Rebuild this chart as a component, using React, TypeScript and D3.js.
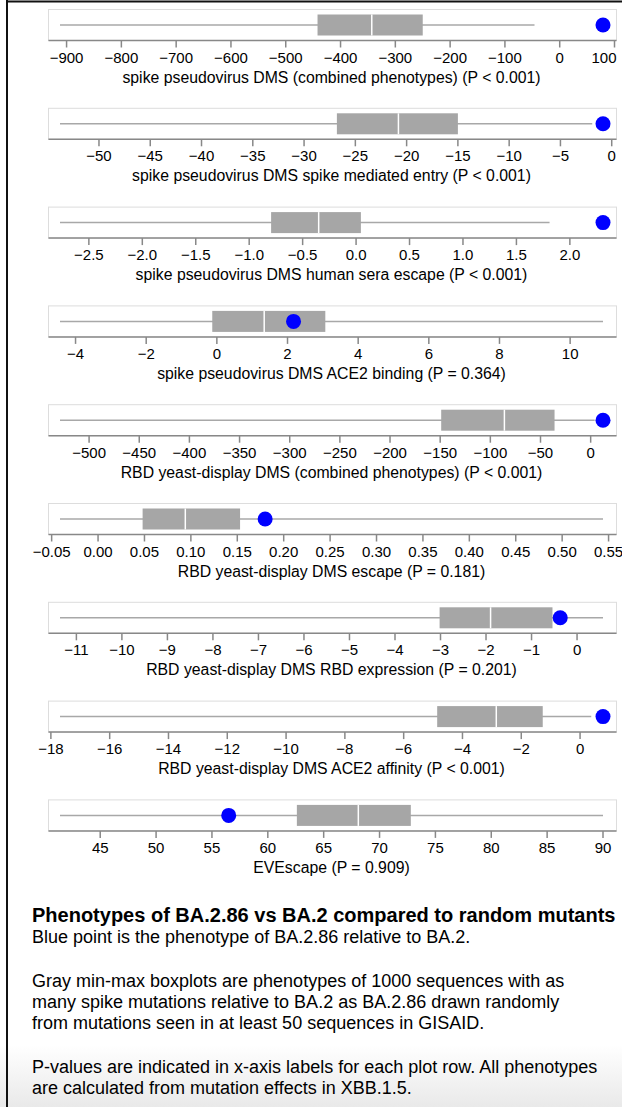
import * as d3 from 'd3';
import React, {useEffect, useRef} from 'react';

// phenotype rows, top to bottom
const labels = [
  'spike pseudovirus DMS (combined phenotypes) (P < 0.001)',
  'spike pseudovirus DMS spike mediated entry (P < 0.001)',
  'spike pseudovirus DMS human sera escape (P < 0.001)',
  'spike pseudovirus DMS ACE2 binding (P = 0.364)',
  'RBD yeast-display DMS (combined phenotypes) (P < 0.001)',
  'RBD yeast-display DMS escape (P = 0.181)',
  'RBD yeast-display DMS RBD expression (P = 0.201)',
  'RBD yeast-display DMS ACE2 affinity (P < 0.001)',
  'EVEscape (P = 0.909)'
];
const mins = [-912, -53.8, -2.77, -4.44, -529, -0.041, -11.36, -17.69, 41.4];
const q1s = [-442, -26.8, -0.795, -0.13, -149, 0.048, -3.02, -4.86, 62.6];
const medians = [-343, -20.8, -0.35, 1.34, -86, 0.094, -1.9, -2.85, 68.1];
const q3s = [-250, -15.0, 0.045, 3.07, -36, 0.153, -0.54, -1.27, 72.8];
const maxs = [-46, -1.9, 1.81, 10.93, 4, 0.544, 0.57, 0.38, 90.0];
const points = [79, -0.85, 2.31, 2.17, 12.3, 0.18, -0.37, 0.78, 56.5];

const notes = [
  {text: 'Phenotypes of BA.2.86 vs BA.2 compared to random mutants', bold: true, y: 922},
  {text: 'Blue point is the phenotype of BA.2.86 relative to BA.2.', bold: false, y: 943},
  {text: 'Gray min-max boxplots are phenotypes of 1000 sequences with as', bold: false, y: 987},
  {text: 'many spike mutations relative to BA.2 as BA.2.86 drawn randomly', bold: false, y: 1008},
  {text: 'from mutations seen in at least 50 sequences in GISAID.', bold: false, y: 1029},
  {text: 'P-values are indicated in x-axis labels for each plot row. All phenotypes', bold: false, y: 1073},
  {text: 'are calculated from mutation effects in XBB.1.5.', bold: false, y: 1094}
];

const W = 622;
const H = 1107;
const font = '"Liberation Sans", Arial, Helvetica, sans-serif';

export default function App() {
  const ref = useRef(null);

  useEffect(() => {
    const svg = d3.select(ref.current);
    svg.selectAll('*').remove();

    const defs = svg.append('defs');
    const grad = defs.append('linearGradient').attr('id', 'fade')
        .attr('x1', 0).attr('y1', 0).attr('x2', 0).attr('y2', 1);
    grad.append('stop').attr('offset', '0%').attr('stop-color', '#ffffff');
    grad.append('stop').attr('offset', '100%').attr('stop-color', '#e9e9e9');

    svg.append('rect').attr('width', W).attr('height', H).attr('fill', '#fff');
    svg.append('rect').attr('x', 0).attr('y', 1045).attr('width', W)
        .attr('height', H - 1045).attr('fill', 'url(#fade)');

    const frameL = 48.5;
    const frameR = 616.5;
    const frameH = 31;
    const pitch = 98.8;

    labels.forEach((label, i) => {
      const top = 9.5 + i * pitch;
      const lo = Math.min(mins[i], points[i]);
      const hi = Math.max(maxs[i], points[i]);
      const x = d3.scaleLinear().domain([lo, hi]).range([60, 603]);
      const xt = x.copy().domain([x.invert(frameL), x.invert(frameR)]).range([frameL, frameR]);
      const g = svg.append('g');

      g.append('rect').attr('x', frameL).attr('y', top)
          .attr('width', frameR - frameL).attr('height', frameH)
          .attr('fill', '#fff').attr('stroke', '#ddd');

      const cy = top + 15.5;
      g.append('line').attr('x1', x(mins[i])).attr('x2', x(maxs[i]))
          .attr('y1', cy).attr('y2', cy)
          .attr('stroke', '#a8a8a8').attr('stroke-width', 1.5);
      g.append('rect').attr('x', x(q1s[i])).attr('y', top + 5)
          .attr('width', x(q3s[i]) - x(q1s[i])).attr('height', 21)
          .attr('fill', '#a6a6a6');
      g.append('line').attr('x1', x(medians[i])).attr('x2', x(medians[i]))
          .attr('y1', top + 5).attr('y2', top + 26)
          .attr('stroke', '#fff').attr('stroke-width', 1.5);
      g.append('circle').attr('cx', x(points[i])).attr('cy', cy)
          .attr('r', 7.5).attr('fill', '#0000ff');

      // axis
      const base = top + frameH;
      g.append('line').attr('x1', frameL).attr('x2', frameR)
          .attr('y1', base).attr('y2', base)
          .attr('stroke', '#888').attr('stroke-width', 1.5);
      const ticks = xt.ticks(10);
      const fmt = xt.tickFormat(10);
      ticks.forEach(t => {
        const tx = xt(t);
        // last label flush with the right end when it sits on it
        const flush = tx > frameR - 3;
        g.append('line').attr('x1', tx).attr('x2', tx)
            .attr('y1', base).attr('y2', base + 7)
            .attr('stroke', '#888').attr('stroke-width', 1.5);
        g.append('text').attr('x', flush ? frameR : tx).attr('y', top + 53)
            .attr('text-anchor', flush ? 'end' : 'middle').attr('font-family', font)
            .attr('font-size', 15).attr('fill', '#000').text(fmt(t));
      });
      g.append('text').attr('x', (frameL + frameR) / 2 - 1).attr('y', top + 73)
          .attr('text-anchor', 'middle').attr('font-family', font)
          .attr('font-size', 15.8).attr('fill', '#000').text(label);
    });

    notes.forEach(n => {
      svg.append('text').attr('x', 32).attr('y', n.y)
          .attr('font-family', font)
          .attr('font-size', n.bold ? 20 : 18)
          .attr('font-weight', n.bold ? 'bold' : 'normal')
          .attr('fill', '#000').text(n.text);
    });

    // dark frame of the screenshot
    svg.append('rect').attr('x', 6).attr('y', 0).attr('width', 2).attr('height', H).attr('fill', '#111');
    svg.append('rect').attr('x', 6).attr('y', 0.5).attr('width', W - 6).attr('height', 2).attr('fill', '#111');
  }, []);

  return (
    <svg ref={ref} width={W} height={H}
         style={{position: 'absolute', left: 0, top: 0, display: 'block'}} />
  );
}
